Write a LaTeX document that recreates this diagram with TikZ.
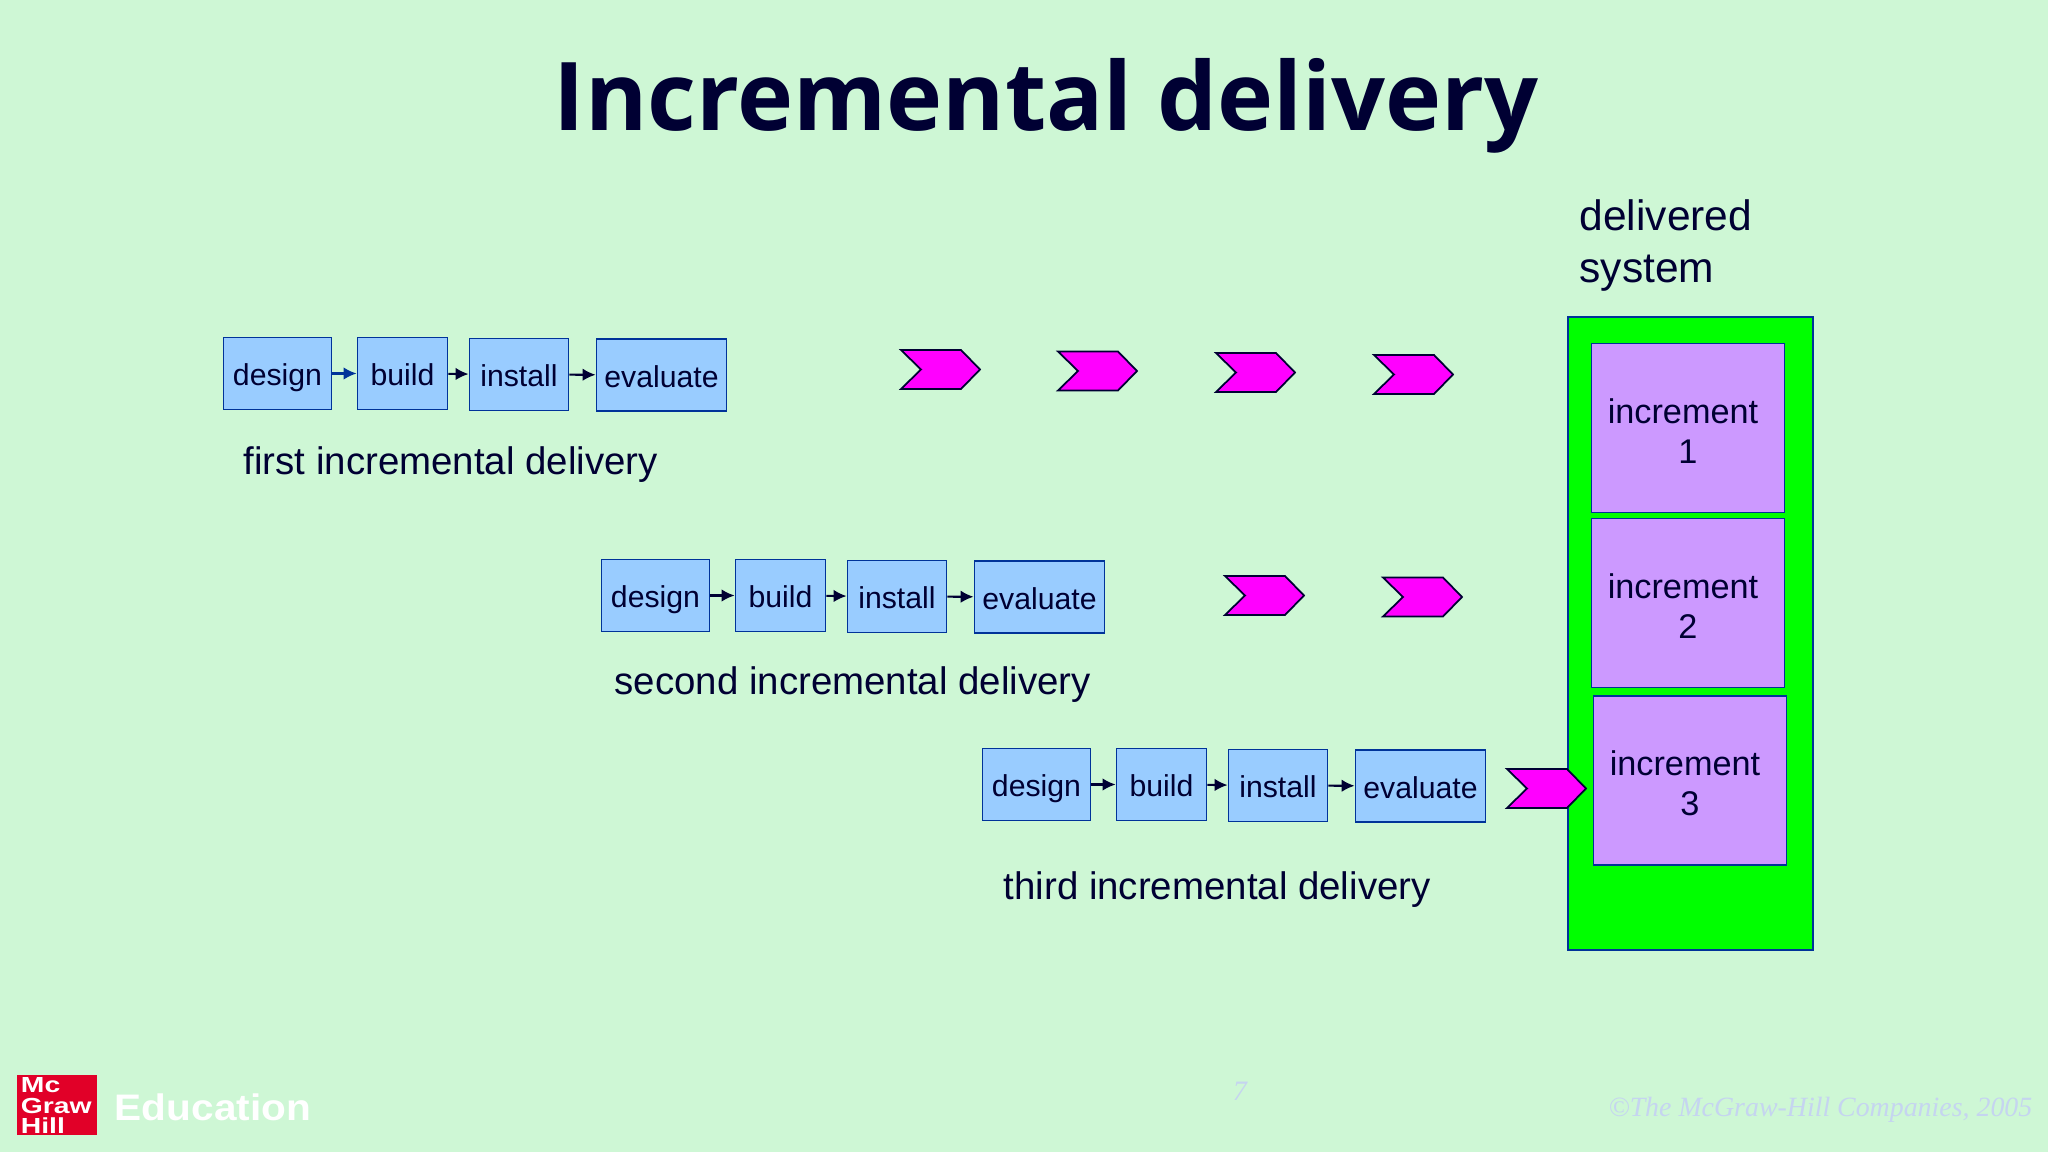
\documentclass[tikz,border=0pt]{standalone}
\usepackage{fontspec}
\usetikzlibrary{arrows.meta}
\setmainfont{Liberation Sans}
\newfontfamily\titlefont{Open Sans}
\newfontfamily\footfont{Liberation Serif}
\definecolor{slide}{RGB}{206,247,213}
\definecolor{ink}{RGB}{0,0,51}
\definecolor{edge}{RGB}{0,51,153}
\definecolor{task}{RGB}{153,204,255}
\definecolor{part}{RGB}{204,153,255}
\definecolor{faint}{RGB}{197,212,240}
\definecolor{logo}{RGB}{225,0,40}
\definecolor{pink}{RGB}{255,0,255}
\tikzset{>={Latex[length=.13cm,width=.125cm]}}
\tikzstyle{box}=[draw=edge,fill=task,line width=.5pt,text=ink,inner sep=0,minimum height=.72cm,
  text height=1.7ex,text depth=.4ex,font=\fontsize{8.6}{10}\selectfont]
\tikzstyle{flow}=[->,line width=.6pt,ink]
\tikzstyle{caption}=[anchor=base west,inner sep=0,text=ink,font=\fontsize{10.93}{13}\selectfont]
\tikzstyle{chev}=[draw=ink,fill=pink,line width=.5pt,line join=miter]
\tikzstyle{slice}=[draw=edge,fill=part,line width=.5pt,text=ink,inner sep=0,align=center,
  minimum width=1.93cm,minimum height=1.69cm,font=\fontsize{9.75}{11.5}\selectfont]
\def\delivery#1#2#3{
  \node[box,minimum width=1.08cm] (#1d) at (#2+.545,#3) {design};
  \node[box,minimum width=.9cm]  (#1b) at (#2+1.795,#3) {build};
  \node[box,minimum width=.99cm]    (#1i) at (#2+2.96,#3+.01) {install};
  \node[box,minimum width=1.3cm] (#1e) at (#2+4.385,#3+.015) {evaluate};
  \draw[flow] (#1b) -- (#1i);
  \draw[flow] (#1i) -- (#1e);
}
\def\chevron#1#2{
  \draw[chev] (#1,#2) ++ (0,.195) -- ++ (.6,0) -- ++ (.19,-.195) -- ++ (-.19,-.195) -- ++ (-.6,0)
    -- ++ (.2,.195) -- cycle;
}
\def\inc#1{\rule{0pt}{8.7pt}increment\hspace*{.1cm}\\#1}
\begin{document}
\begin{tikzpicture}[x=1cm,y=-1cm]
  \useasboundingbox (0,0) rectangle (20.48,11.52);
  \fill[slide] (0,0) rectangle (20.48,11.52);

  % TITLE
  \node[anchor=base,inner sep=0,text=ink,font=\titlefont\bfseries\fontsize{27}{30}\selectfont]
    (title) at (10.46,1.31) {Incremental delivery};

  % DELIVERIES
  \delivery{a}{2.23}{3.735}
  \draw[flow,edge] (ad) -- (ab);
  \delivery{b}{6.01}{5.955}
  \draw[flow] (bd) -- (bb);
  \delivery{c}{9.82}{7.845}
  \draw[flow] (cd) -- (cb);
  \node[caption] (afirst) at (2.43,4.75) {first incremental delivery};
  \node[caption] (bsecond) at (6.14,6.95) {second incremental delivery};
  \node[caption] (cthird) at (10.03,9) {third incremental delivery};

  % CHEVRONS
  \chevron{9.01}{3.695}
  \chevron{10.58}{3.71}
  \chevron{12.16}{3.725}
  \chevron{13.74}{3.745}
  \chevron{12.25}{5.955}
  \chevron{13.83}{5.97}

  % SYSTEM
  \node[anchor=north west,inner sep=0,align=left,text=ink,font=\fontsize{12.1}{14.8}\selectfont]
    (system) at (15.79,1.99) {delivered\\system};
  \fill[green,draw=edge,line width=.5pt] (15.68,3.17) rectangle (18.13,9.5);
  \node[slice] (one) at (16.88,4.28) {\inc{1}};
  \node[slice] (two) at (16.88,6.03) {\inc{2}};
  \node[slice] (three) at (16.9,7.805) {\inc{3}};
  \chevron{15.07}{7.885}

  % FOOTER
  \fill[logo] (.17,10.75) rectangle (.97,11.35);
  \node[anchor=north west,inner sep=0,align=left,text=white,xscale=1.3,font=\bfseries\fontsize{6.2}{5.8}\selectfont]
    (mcgraw) at (.2,10.77) {Mc\\Graw\\Hill};
  \node[anchor=base west,inner sep=0,text=white,font=\bfseries\fontsize{10.5}{12}\selectfont,xscale=1.1]
    (education) at (1.14,11.2) {Education};
  \node[anchor=base,inner sep=0,text=faint,font=\footfont\itshape\fontsize{8}{9}\selectfont]
    (page) at (12.4,11) {7};
  \node[anchor=base east,inner sep=0,text=faint,font=\footfont\itshape\fontsize{7.93}{9}\selectfont]
    (rights) at (20.33,11.16) {©The McGraw-Hill Companies, 2005};
\end{tikzpicture}
\end{document}
